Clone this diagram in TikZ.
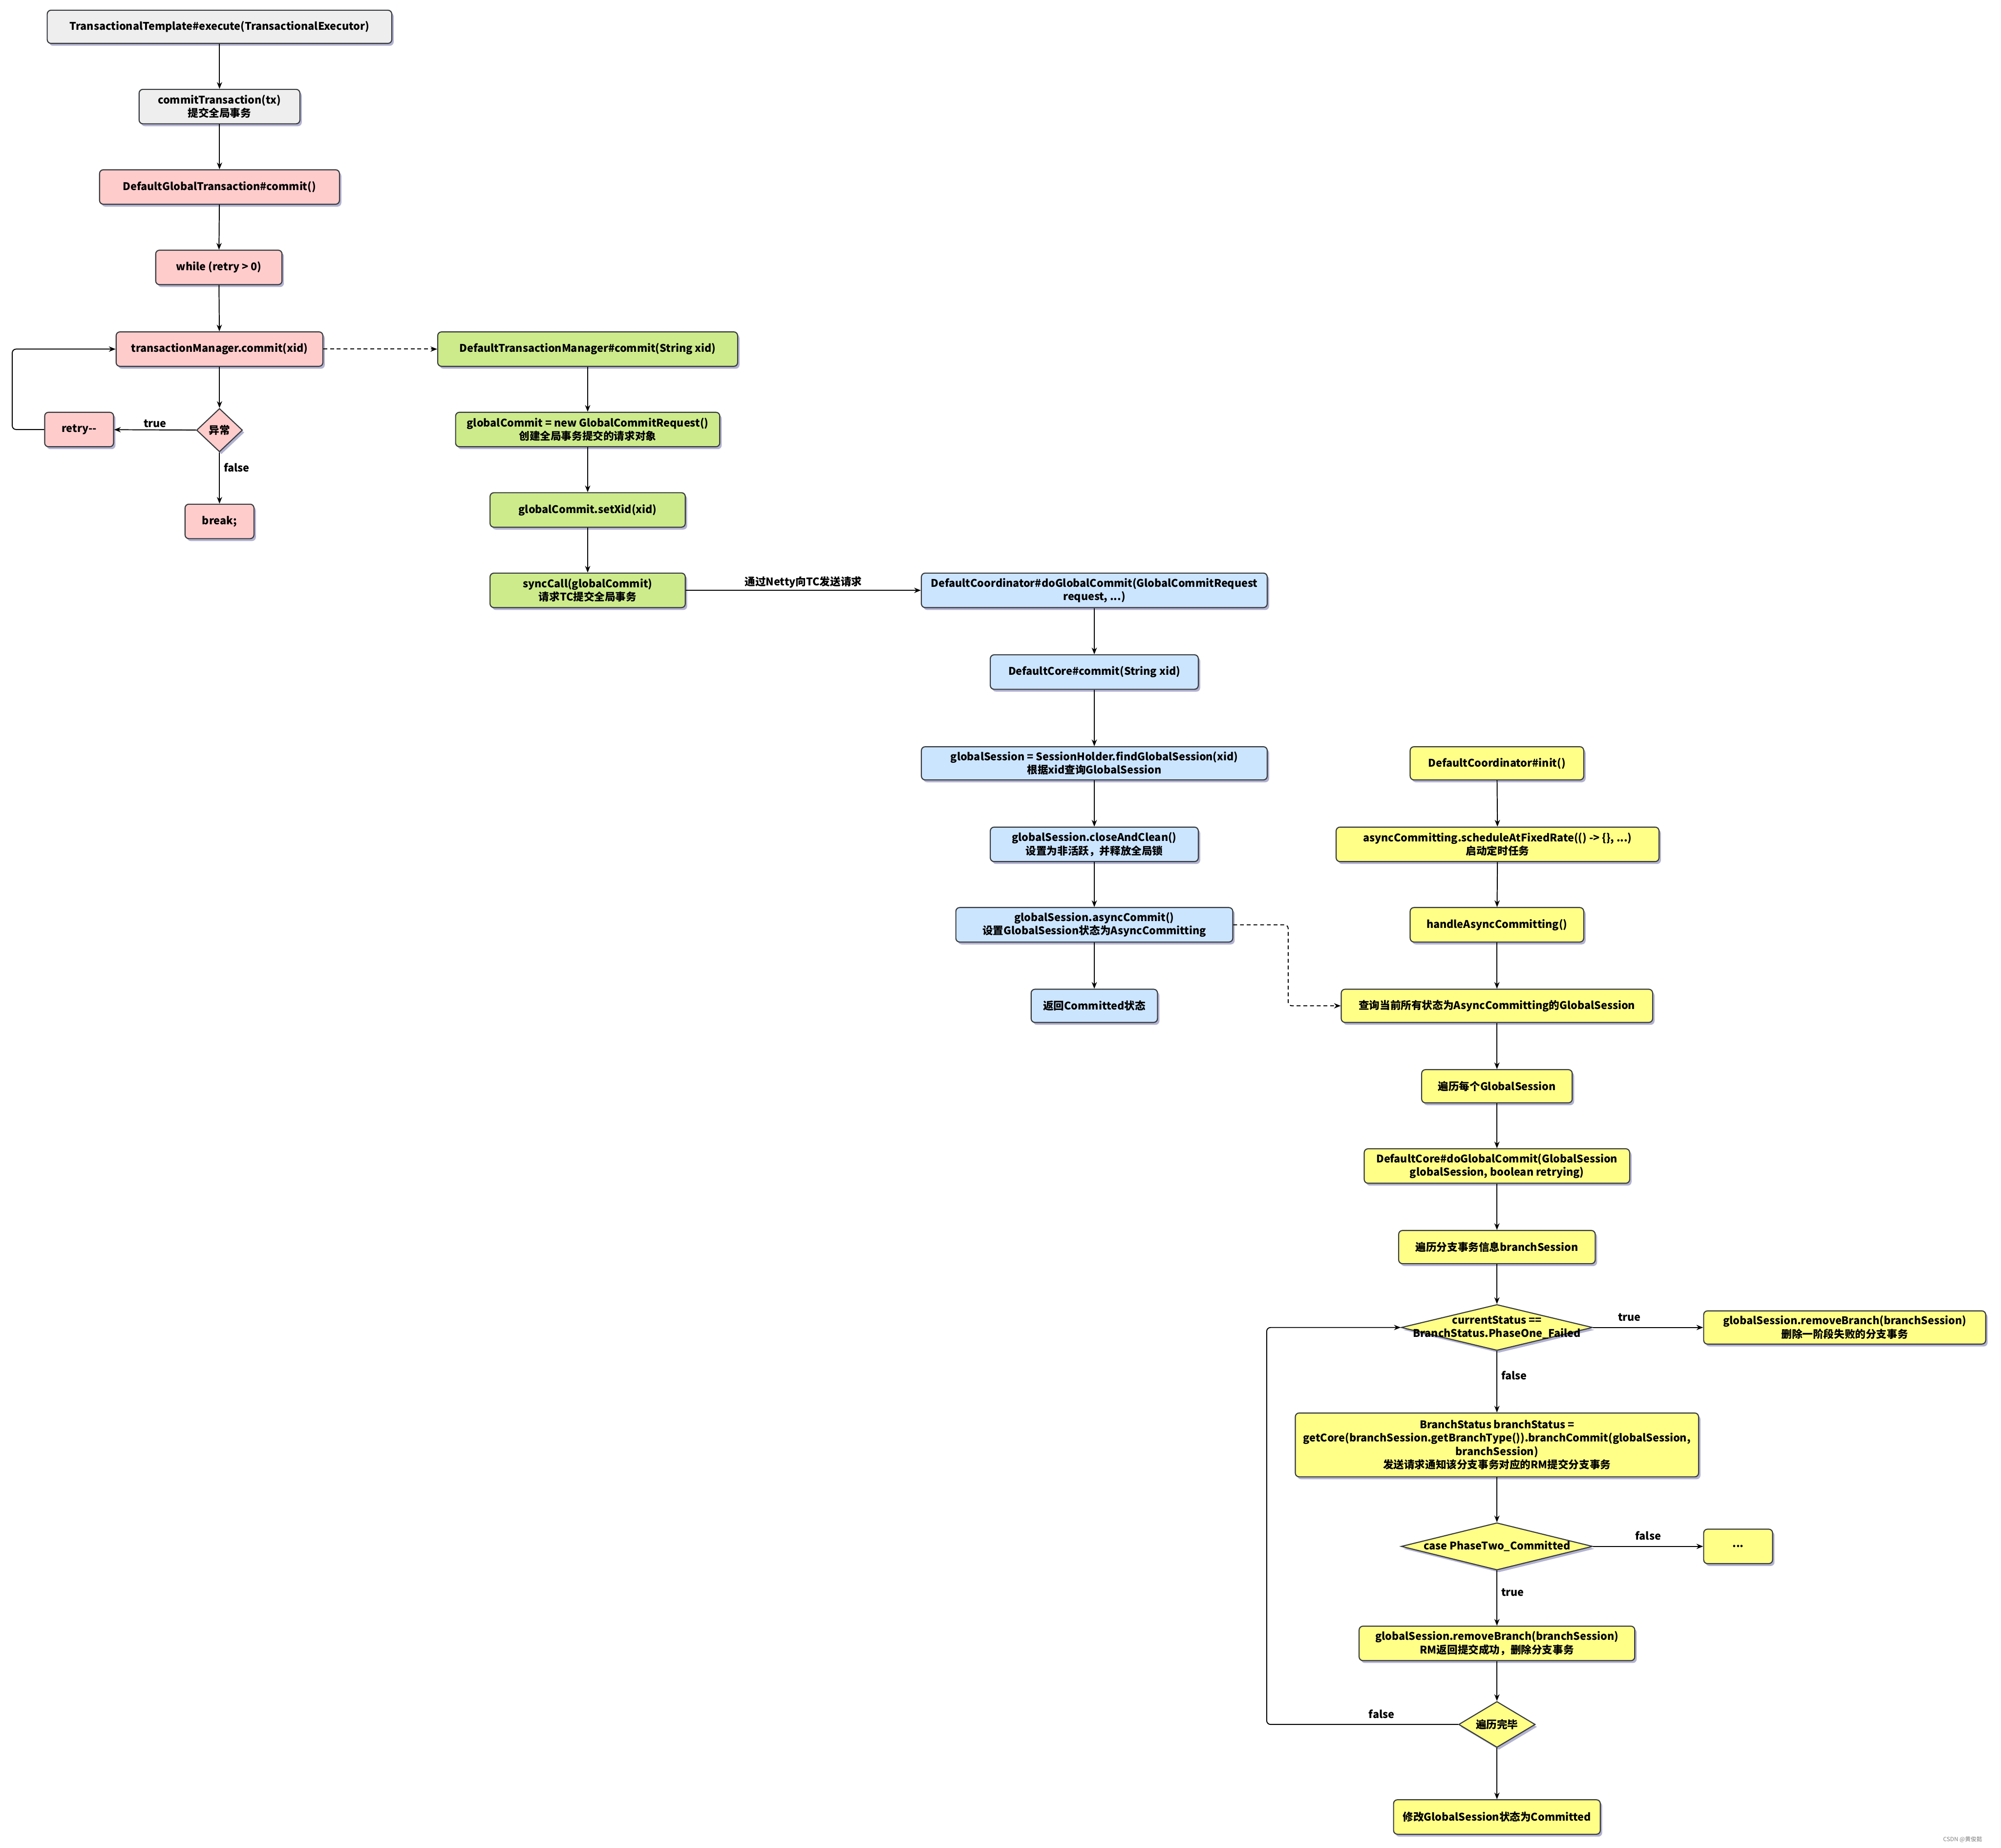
\documentclass[tikz,border=0pt]{standalone}
\usepackage{fontspec}
\setmainfont{Noto Sans CJK SC}
\usetikzlibrary{arrows.meta,shapes.geometric,shadows,calc}
\definecolor{bordc}{HTML}{36393D}
\definecolor{grayc}{HTML}{EEEEEE}
\definecolor{pinkc}{HTML}{FFCCCC}
\definecolor{greenc}{HTML}{CDEB8B}
\definecolor{bluec}{HTML}{CCE5FF}
\definecolor{yellowc}{HTML}{FFFF88}
\tikzset{
  shad/.style={drop shadow={shadow xshift=2pt,shadow yshift=-2.5pt,opacity=0.3,fill=black!60!blue}},
  box/.style={draw=bordc,line width=1.1pt,rounded corners=4pt,align=center,inner sep=1pt,shad,font=\fontsize{11}{14}\selectfont\bfseries},
  graybox/.style={box,fill=grayc},
  pinkbox/.style={box,fill=pinkc},
  greenbox/.style={box,fill=greenc},
  bluebox/.style={box,fill=bluec},
  yellowbox/.style={box,fill=yellowc},
  dia/.style={draw=bordc,line width=1.1pt,shape=diamond,inner sep=0pt,shad,align=center},
  arr/.style={-{Stealth[length=7pt,width=5.5pt]},line width=1pt,black},
  darr/.style={arr,dashed,dash pattern=on 4pt off 3pt},
  lab/.style={font=\fontsize{11}{14}\selectfont\bfseries,inner sep=0pt}
}
\newcommand\bx[7]{\node[#6,minimum width={(#4-#2)*1.3305pt},minimum height={(#5-#3)*1.3305pt}] (#1) at ({(#2+#4)/2},{(#3+#5)/2}) {#7};}
\newcommand\dm[7]{\node[dia,fill=#6,minimum width={(#4-#2)*1.3305pt},minimum height={(#5-#3)*1.3305pt},label={[lab,align=center]center:#7}] (#1) at ({(#2+#4)/2},{(#3+#5)/2}) {};}
\begin{document}
\begin{tikzpicture}[x=1.3305pt,y=-1.3305pt]
\useasboundingbox[fill=white] (0,0) rectangle (1568,1447.6);
% left column
\bx{a1}{37}{8}{307}{34}{graybox}{TransactionalTemplate\#execute(TransactionalExecutor)}
\bx{a2}{109}{70}{235}{97}{graybox}{commitTransaction(tx)\\提交全局事务}
\bx{a3}{78}{133}{266}{160}{pinkbox}{DefaultGlobalTransaction\#commit()}
\bx{a4}{122}{196}{221}{223}{pinkbox}{while (retry > 0)}
\bx{a5}{91}{260}{253}{287}{pinkbox}{transactionManager.commit(xid)}
\dm{a6}{154}{320}{190}{354}{pinkc}{异常}
\bx{a7}{35}{323}{89}{350}{pinkbox}{retry-{}-}
\bx{a8}{145}{395}{199}{422}{pinkbox}{break;}
% green column
\bx{g1}{343}{260}{578}{287}{greenbox}{DefaultTransactionManager\#commit(String xid)}
\bx{g2}{357}{323}{564}{350}{greenbox}{globalCommit = new GlobalCommitRequest()\\创建全局事务提交的请求对象}
\bx{g3}{384}{386}{537}{413}{greenbox}{globalCommit.setXid(xid)}
\bx{g4}{384}{449}{537}{476}{greenbox}{syncCall(globalCommit)\\请求TC提交全局事务}
% blue column
\bx{b1}{722}{449}{993}{476}{bluebox}{DefaultCoordinator\#doGlobalCommit(GlobalCommitRequest\\request, ...)}
\bx{b2}{776}{513}{939}{540}{bluebox}{DefaultCore\#commit(String xid)}
\bx{b3}{722}{585}{993}{611}{bluebox}{globalSession = SessionHolder.findGlobalSession(xid)\\根据xid查询GlobalSession}
\bx{b4}{776}{648}{939}{675}{bluebox}{globalSession.closeAndClean()\\设置为非活跃，并释放全局锁}
\bx{b5}{749}{711}{966}{738}{bluebox}{globalSession.asyncCommit()\\设置GlobalSession状态为AsyncCommitting}
\bx{b6}{808}{775}{907}{801}{bluebox}{返回Committed状态}
% yellow column
\bx{y1}{1105}{585}{1241}{611}{yellowbox}{DefaultCoordinator\#init()}
\bx{y2}{1047}{648}{1300}{675}{yellowbox}{asyncCommitting.scheduleAtFixedRate(() -> \{\}, ...)\\启动定时任务}
\bx{y3}{1105}{711}{1241}{738}{yellowbox}{handleAsyncCommitting()}
\bx{y4}{1051}{775}{1295}{801}{yellowbox}{查询当前所有状态为AsyncCommitting的GlobalSession}
\bx{y5}{1114}{838}{1232}{864}{yellowbox}{遍历每个GlobalSession}
\bx{y6}{1069}{900}{1277}{927}{yellowbox}{DefaultCore\#doGlobalCommit(GlobalSession\\globalSession, boolean retrying)}
\bx{y7}{1096}{964}{1250}{990}{yellowbox}{遍历分支事务信息branchSession}
\dm{y8}{1098}{1022}{1248}{1058}{yellowc}{currentStatus ==\\BranchStatus.PhaseOne\_Failed}
\bx{y9}{1335}{1027}{1556}{1053}{yellowbox}{globalSession.removeBranch(branchSession)\\删除一阶段失败的分支事务}
\bx{y10}{1015}{1107}{1331}{1157}{yellowbox}{BranchStatus branchStatus =\\getCore(branchSession.getBranchType()).branchCommit(globalSession,\\branchSession)\\发送请求通知该分支事务对应的RM提交分支事务}
\dm{y11}{1098}{1193}{1248}{1230}{yellowc}{case PhaseTwo\_Committed}
\bx{y12}{1335}{1198}{1389}{1225}{yellowbox}{...}
\bx{y13}{1065}{1274}{1281}{1301}{yellowbox}{globalSession.removeBranch(branchSession)\\RM返回提交成功，删除分支事务}
\dm{y14}{1143}{1333}{1203}{1369}{yellowc}{遍历完毕}
\bx{y15}{1092}{1410}{1254}{1437}{yellowbox}{修改GlobalSession状态为Committed}
% connectors left
\draw[arr] (a1) -- (a2);
\draw[arr] (a2) -- (a3);
\draw[arr] (a3) -- (a4);
\draw[arr] (a4) -- (a5);
\draw[arr] (a5) -- (a6);
\draw[arr] (a6) -- node[lab,above,yshift=2pt]{true} (a7);
\draw[arr] (a6) -- node[lab,right,xshift=4pt,pos=0.3]{false} (a8);
\draw[arr,rounded corners=4pt] (a7.west) -- ++(-25,0) |- (a5.west);
\draw[darr] (a5) -- (g1);
% green
\draw[arr] (g1) -- (g2);
\draw[arr] (g2) -- (g3);
\draw[arr] (g3) -- (g4);
\draw[arr] (g4) -- node[lab,above,yshift=2pt]{通过Netty向TC发送请求} (b1);
% blue
\draw[arr] (b1) -- (b2);
\draw[arr] (b2) -- (b3);
\draw[arr] (b3) -- (b4);
\draw[arr] (b4) -- (b5);
\draw[arr] (b5) -- (b6);
\draw[darr,rounded corners=4pt] (b5.east) -- ++(43,0) |- (y4.west);
% yellow
\draw[arr] (y1) -- (y2);
\draw[arr] (y2) -- (y3);
\draw[arr] (y3) -- (y4);
\draw[arr] (y4) -- (y5);
\draw[arr] (y5) -- (y6);
\draw[arr] (y6) -- (y7);
\draw[arr] (y7) -- (y8);
\draw[arr] (y8) -- node[lab,above,yshift=6pt,pos=0.33]{true} (y9);
\draw[arr] (y8) -- node[lab,right,xshift=4pt,pos=0.4]{false} (y10);
\draw[arr] (y10) -- (y11);
\draw[arr] (y11) -- node[lab,above,yshift=6pt,pos=0.5]{false} (y12);
\draw[arr] (y11) -- node[lab,right,xshift=4pt,pos=0.4]{true} (y13);
\draw[arr] (y13) -- (y14);
\draw[arr] (y14) -- (y15);
\draw[arr,rounded corners=4pt] (y14.west) -- ++(-150,0) node[lab,above,pos=0.4,yshift=6pt]{false} |- (y8.west);
\node[font=\fontsize{6}{7}\selectfont,text=gray] (wm) at (1538,1441) {CSDN @黄俊懿};
\end{tikzpicture}
\end{document}
